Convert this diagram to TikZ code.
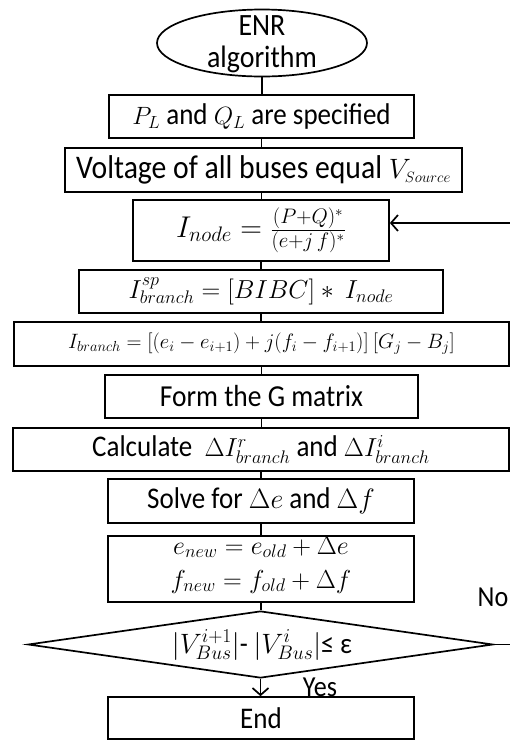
\RequirePackage{fix-cm}
\documentclass[tikz,border=0pt]{standalone}
\usepackage{fontspec}
\setmainfont{Carlito}[FakeStretch=0.9]
\usetikzlibrary{shapes.geometric,arrows.meta}
\newcommand\msz[2]{{\fontsize{#1}{#1}\selectfont$#2$}}
\newcommand\fs[1]{\fontsize{#1}{#1}\selectfont}
\begin{document}
\begin{tikzpicture}[x=1pt,y=-1pt,
  box/.style={draw,line width=1.7pt,rectangle,inner sep=0pt,font=\fs{30}},
  txt/.style={inner sep=0pt,font=\fs{31}},
  link/.style={line width=1.7pt},
  arr/.style={line width=1.7pt,-{Straight Barb[length=7pt,width=16pt,line width=1.7pt]}},
  lbl/.style={font=\fs{29},inner sep=0pt}]
\useasboundingbox (0,0) rectangle (510,740);
\clip (0,0) rectangle (510,740);
\node[draw,ellipse,line width=1.7pt,minimum width=210pt,minimum height=67pt,inner sep=0pt] (start) at (262,43) {};
\node[txt,anchor=base] (enr) at (262,35) {ENR};
\node[txt,anchor=base] (alg) at (262,67) {algorithm};
\node[box,minimum width=305pt,minimum height=43pt] (b1) at (261.5,116.5) {\msz{25}{P_L} and \msz{25}{Q_L} are specified};
\node[box,minimum width=397pt,minimum height=44pt,font=\fs{33}] (b2) at (263.5,170) {Voltage of all buses equal \msz{28}{V_{\mbox{\fs{15}$Source$}}}};
\node[box,minimum width=256pt,minimum height=61pt,font=\fs{30}] (b3) at (261,230.5) {$I_{node}=\frac{(P+Q)^*}{(e{+}j\,f)^*}$};
\node[box,minimum width=364pt,minimum height=43pt,font=\fs{26}] (b4) at (261,291.5) {$I^{sp}_{branch}=[BIBC]*\ I_{node}$};
\node[box,minimum width=495pt,minimum height=44pt,font=\fs{20.8}] (b5) at (261.5,344) {$I_{branch}=[(e_i-e_{i+1})+j(f_i-f_{i+1})]\ [G_j-B_j]$};
\node[box,minimum width=313pt,minimum height=43pt,font=\fs{30.5}] (b6) at (261.5,396.5) {Form the G matrix};
\node[box,minimum width=496pt,minimum height=43pt,font=\fs{30}] (b7) at (261,449.5) {Calculate \ \msz{26}{\Delta I^r_{branch}} and \msz{26}{\Delta I^i_{branch}}};
\node[box,minimum width=306pt,minimum height=44pt] (b8) at (261,501) {Solve for \msz{28}{\Delta e} and \msz{28}{\Delta f}};
\node[box,minimum width=306pt,minimum height=66pt] (b9) at (261,569) {};
\node[inner sep=0pt,anchor=base,font=\fs{26}] (b9a) at (261,554) {$e_{new}=e_{old}+\Delta e$};
\node[inner sep=0pt,anchor=base,font=\fs{26}] (b9b) at (261,588) {$f_{new}=f_{old}+\Delta f$};
\node[draw,diamond,line width=1.7pt,minimum width=465pt,minimum height=67pt,inner sep=0pt,aspect=6.94] (dec) at (260.5,644.5) {};
\node[inner sep=0pt,font=\fs{29}] (dectext) at (262,645) {\msz{28}{|V^{i+1}_{Bus}|}- \msz{28}{|V^{i}_{Bus}|}≤ ε};
\node[box,minimum width=306pt,minimum height=42pt] (end) at (261,718) {End};
\node[lbl] (yes) at (320,687) {Yes};
\node[lbl] (no) at (493,597) {No};
\draw[link] (start.south) -- (start.south |- b1.north);
\draw[link] (b1.south) -- (b1.south |- b2.north);
\draw[link] (b1.south |- b2.south) -- (b1.south |- b3.north);
\draw[link] (b3.south) -- (b3.south |- b4.north);
\draw[link] (b4.south) -- (b4.south |- b5.north);
\draw[link] (b5.south) -- (b5.south |- b6.north);
\draw[link] (b6.south) -- (b6.south |- b7.north);
\draw[link] (b7.south) -- (b7.south |- b8.north);
\draw[link] (b8.south) -- (b8.south |- b9.north);
\draw[link] (b9.south) -- (b9.south |- dec.north);
\draw[arr] (dec.south) -- (dec.south |- end.north);
\coordinate (fr) at (515,644.5);
\coordinate (ft) at (515,223);
\draw[arr] (dec.east) -- (fr) -- (ft) -- (b3.east |- ft);
\end{tikzpicture}
\end{document}
